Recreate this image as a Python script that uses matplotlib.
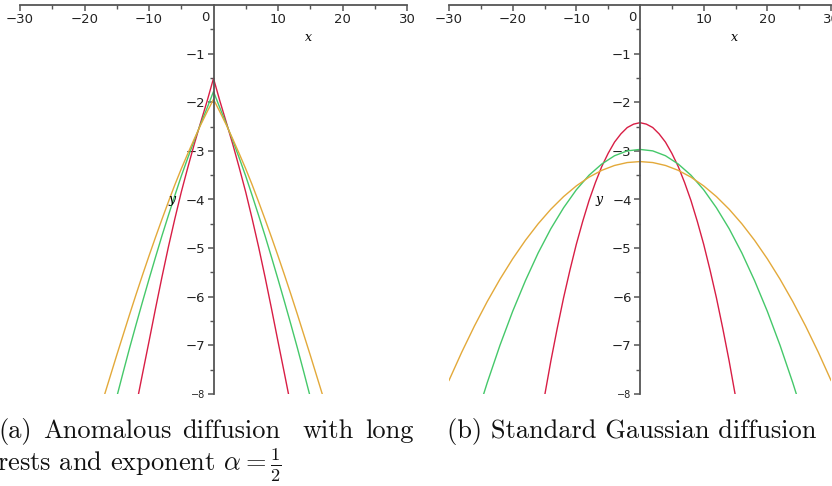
import numpy as np
import matplotlib.pyplot as plt

plt.rcParams['mathtext.fontset'] = 'cm'

# (a) anomalous diffusion, symmetric curves: values read for x >= 0
xa = [0, 1, 2, 3, 4, 5, 6, 7, 8, 9, 10, 11, 12, 13, 14, 15, 16, 17]
red_a = [-1.51, -1.98, -2.42, -2.87, -3.35, -3.85, -4.40, -4.98, -5.60,
         -6.25, -6.92, -7.58, -8.25]
green_a = [-1.78, -2.12, -2.45, -2.79, -3.15, -3.52, -3.92, -4.33, -4.75,
           -5.19, -5.64, -6.10, -6.57, -7.05, -7.55, -8.06]
orange_a = [-1.94, -2.20, -2.47, -2.76, -3.06, -3.37, -3.70, -4.05, -4.41,
            -4.78, -5.16, -5.55, -5.95, -6.36, -6.78, -7.20, -7.63, -8.06]

# (b) standard gaussian diffusion, values read for x >= 0
xb_red = [0, 1, 2, 3, 4, 5, 6, 7, 8, 9, 10, 11, 12, 13, 14, 15, 16]
red_b = [-2.42, -2.45, -2.52, -2.65, -2.82, -3.05, -3.32, -3.65, -4.02,
         -4.45, -4.92, -5.45, -6.02, -6.65, -7.32, -8.05, -8.82]
xb = [0, 2, 4, 6, 8, 10, 12, 14, 16, 18, 20, 22, 24, 26, 28, 30]
green_b = [-2.97, -3.00, -3.10, -3.27, -3.50, -3.80, -4.17, -4.60, -5.10,
           -5.67, -6.30, -7.00, -7.77, -8.60]
orange_b = [-3.22, -3.24, -3.30, -3.40, -3.54, -3.72, -3.94, -4.20, -4.50,
            -4.84, -5.22, -5.64, -6.10, -6.60, -7.14, -7.72]

captions = ['(a)', 'Anomalous', 'diffusion', 'with', 'long']

RED = '#d81e45'
GREEN = '#45c86a'
ORANGE = '#e3a93a'
AXC = '#555555'


def mirror(x, y):
    # curves are symmetric about x = 0
    x = np.array(x[:len(y)], dtype=float)
    y = np.array(y, dtype=float)
    return np.concatenate([-x[::-1], x[1:]]), np.concatenate([y[::-1], y[1:]])


def maple_axes(ax):
    ax.set_xlim(-30, 30)
    ax.set_ylim(-8, 0)
    for s in ['top', 'right']:
        ax.spines[s].set_visible(False)
    ax.spines['bottom'].set_position(('data', 0))
    ax.spines['left'].set_position(('data', 0))
    for s in ['bottom', 'left']:
        ax.spines[s].set_color(AXC)
        ax.spines[s].set_linewidth(1.3)
    ax.set_xticks([-30, -20, -10, 10, 20, 30])
    ax.set_xticklabels(['\u221230', '\u221220', '\u221210', '10', '20', '30'])
    ax.set_xticks([-25, -15, -5, 5, 15, 25], minor=True)
    ax.set_yticks([-1, -2, -3, -4, -5, -6, -7, -8])
    ax.set_yticklabels(['\u22121', '\u22122', '\u22123', '\u22124', '\u22125',
                        '\u22126', '\u22127', '\u22128'])
    ax.set_yticks([-0.5, -1.5, -2.5, -3.5, -4.5, -5.5, -6.5, -7.5], minor=True)
    ax.tick_params(which='major', length=4.5, width=1.1, color=AXC,
                   labelsize=9.5, labelcolor='#222222', pad=1.5)
    ax.tick_params(which='minor', length=3, width=1.0, color=AXC)
    ax.get_yticklabels()[-1].set_fontsize(7)
    ax.text(-0.6, -0.12, '0', ha='right', va='top', fontsize=9.5, color='#222222')
    ax.text(14.8, -0.66, 'x', fontsize=9, style='italic', family='DejaVu Serif',
            ha='center', va='center')
    ax.text(-6.4, -4.0, 'y', fontsize=9, style='italic', family='DejaVu Serif',
            ha='center', va='center')
    ax.patch.set_alpha(0)


fig = plt.figure(figsize=(8.32, 4.86), dpi=100)

ax1 = fig.add_axes([20 / 832, 92 / 486, 387 / 832, 389 / 486])
for y, c in [(red_a, RED), (green_a, GREEN), (orange_a, ORANGE)]:
    xx, yy = mirror(xa, y)
    ax1.plot(xx, yy, color=c, lw=1.0)
maple_axes(ax1)

ax2 = fig.add_axes([449 / 832, 92 / 486, 382 / 832, 389 / 486])
for x, y, c in [(xb_red, red_b, RED), (xb, green_b, GREEN), (xb, orange_b, ORANGE)]:
    xx, yy = mirror(x, y)
    ax2.plot(xx, yy, color=c, lw=1.0)
maple_axes(ax2)

# captions
cap_kw = dict(family='cmr10', fontsize=19, color='#111111', va='baseline')
word_x = [-2, 43, 182, 302, 365]
for w, px in zip(captions, word_x):
    fig.text(px / 832, 1 - 438 / 486, w, **cap_kw)
fig.text(-3 / 832, 1 - 471 / 486, r'rests and exponent $\alpha = \frac{1}{2}$', **cap_kw)
fig.text(447 / 832, 1 - 438 / 486, '(b) Standard Gaussian diffusion', **cap_kw)

fig.savefig('out.png', dpi=100)
